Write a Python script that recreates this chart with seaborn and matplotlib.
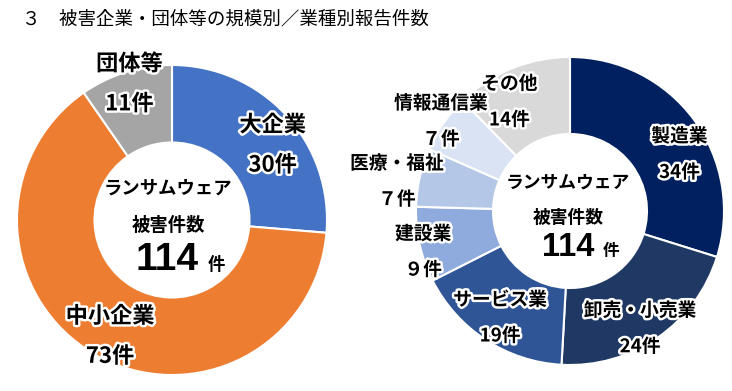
import matplotlib
matplotlib.use("Agg")
import matplotlib.pyplot as plt
import matplotlib.patheffects as pe
import numpy as np
import seaborn as sns

sns.set_theme(style="white")
plt.rcParams['font.family'] = ['Noto Sans CJK JP', 'DejaVu Sans']

# ---- data ----
title = "３　被害企業・団体等の規模別／業種別報告件数"
size_cats = ["大企業", "中小企業", "団体等"]
size_vals = [30, 73, 11]
size_colors = ["#4472C4", "#ED7D31", "#A5A5A5"]

ind_cats = ["製造業", "卸売・小売業", "サービス業", "建設業", "医療・福祉", "情報通信業", "その他"]
ind_vals = [34, 24, 19, 9, 7, 7, 14]
ind_colors = ["#002060", "#203864", "#2F5597", "#8FAADC", "#B4C7E7", "#DAE3F3", "#D9D9D9"]

center_lines = ["ランサムウェア", "被害件数"]
unit = "件"

# label placement (radius in pie units, angle shift in degrees)
size_lab_r = [0.81, 0.85, 0.92]
size_lab_shift = [6, -2, 0]
ind_lab_r = [0.80, 0.89, 0.83, 0.99, 1.14, 1.02, 0.81]
ind_lab_shift = [9, 4, 0, -3, -3, 0, -7]

W, H = 732, 391
fig = plt.figure(figsize=(W / 100, H / 100), dpi=100)
fig.patch.set_facecolor("white")

halo = [pe.withStroke(linewidth=3.5, foreground="white")]


def fullwidth(n):
    s = str(n)
    if len(s) == 1:
        return chr(ord(s) + 0xFEE0)
    return s


def make_pie(cx, cy, R, vals, colors, cats, lab_r, lab_shift, lab_fs, gap,
             cfs, tfs, ufs, c_offsets):
    ax = fig.add_axes([(cx - R) / W, (H - cy - R) / H, 2 * R / W, 2 * R / H])
    wedges, _ = ax.pie(vals, colors=colors, startangle=90, counterclock=False,
                       radius=1.0,
                       wedgeprops=dict(width=0.5, edgecolor="white", linewidth=1.5))
    ax.set_xlim(-1, 1)
    ax.set_ylim(-1, 1)
    ax.set_aspect("equal")
    ax.axis("off")
    total = sum(vals)
    cum = np.cumsum([0] + list(vals))
    for i, (cat, v) in enumerate(zip(cats, vals)):
        mid = (cum[i] + v / 2) / total * 360 + lab_shift[i]
        th = np.deg2rad(mid)
        x, y = lab_r[i] * np.sin(th), lab_r[i] * np.cos(th)
        ax.annotate(cat, xy=(x, y), xytext=(0, gap / 2), textcoords="offset pixels",
                    ha="center", va="center", fontsize=lab_fs, fontweight="bold",
                    color="black", path_effects=halo, annotation_clip=False)
        ax.annotate(f"{fullwidth(v)}件", xy=(x, y), xytext=(0, -gap / 2),
                    textcoords="offset pixels", ha="center", va="center",
                    fontsize=lab_fs, fontweight="bold", color="black",
                    path_effects=halo, annotation_clip=False)
    (l1x, l1y), (l2x, l2y), (tx, ty), (ux, uy) = c_offsets
    ax.annotate(center_lines[0], xy=(0, 0), xytext=(l1x, l1y), textcoords="offset pixels",
                ha="center", va="center", fontsize=cfs, fontweight="bold", color="black")
    ax.annotate(center_lines[1], xy=(0, 0), xytext=(l2x, l2y), textcoords="offset pixels",
                ha="center", va="center", fontsize=cfs, fontweight="bold", color="black")
    ax.annotate(str(sum(vals)), xy=(0, 0), xytext=(tx, ty), textcoords="offset pixels",
                ha="center", va="baseline", fontsize=tfs, fontweight="bold",
                color="black", family=["Liberation Sans", "DejaVu Sans"])
    ax.annotate(unit, xy=(0, 0), xytext=(ux, uy), textcoords="offset pixels",
                ha="center", va="baseline", fontsize=ufs, fontweight="bold", color="black")
    return ax


make_pie(172, 220, 155, size_vals, size_colors, size_cats, size_lab_r, size_lab_shift,
         16, 40, 13.2, 28, 12.5,
         [(-4, 32), (-4, -5), (-5, -50), (44, -50)])
make_pie(570, 211, 154, ind_vals, ind_colors, ind_cats, ind_lab_r, ind_lab_shift,
         13.5, 36, 12.8, 23.5, 12,
         [(-2, 28), (-2, -7), (-2, -45), (41, -45)])

fig.text(22 / W, 1 - 19 / H, title, ha="left", va="center", fontsize=13.3, color="black")

fig.savefig("out.png", dpi=100, facecolor="white")
